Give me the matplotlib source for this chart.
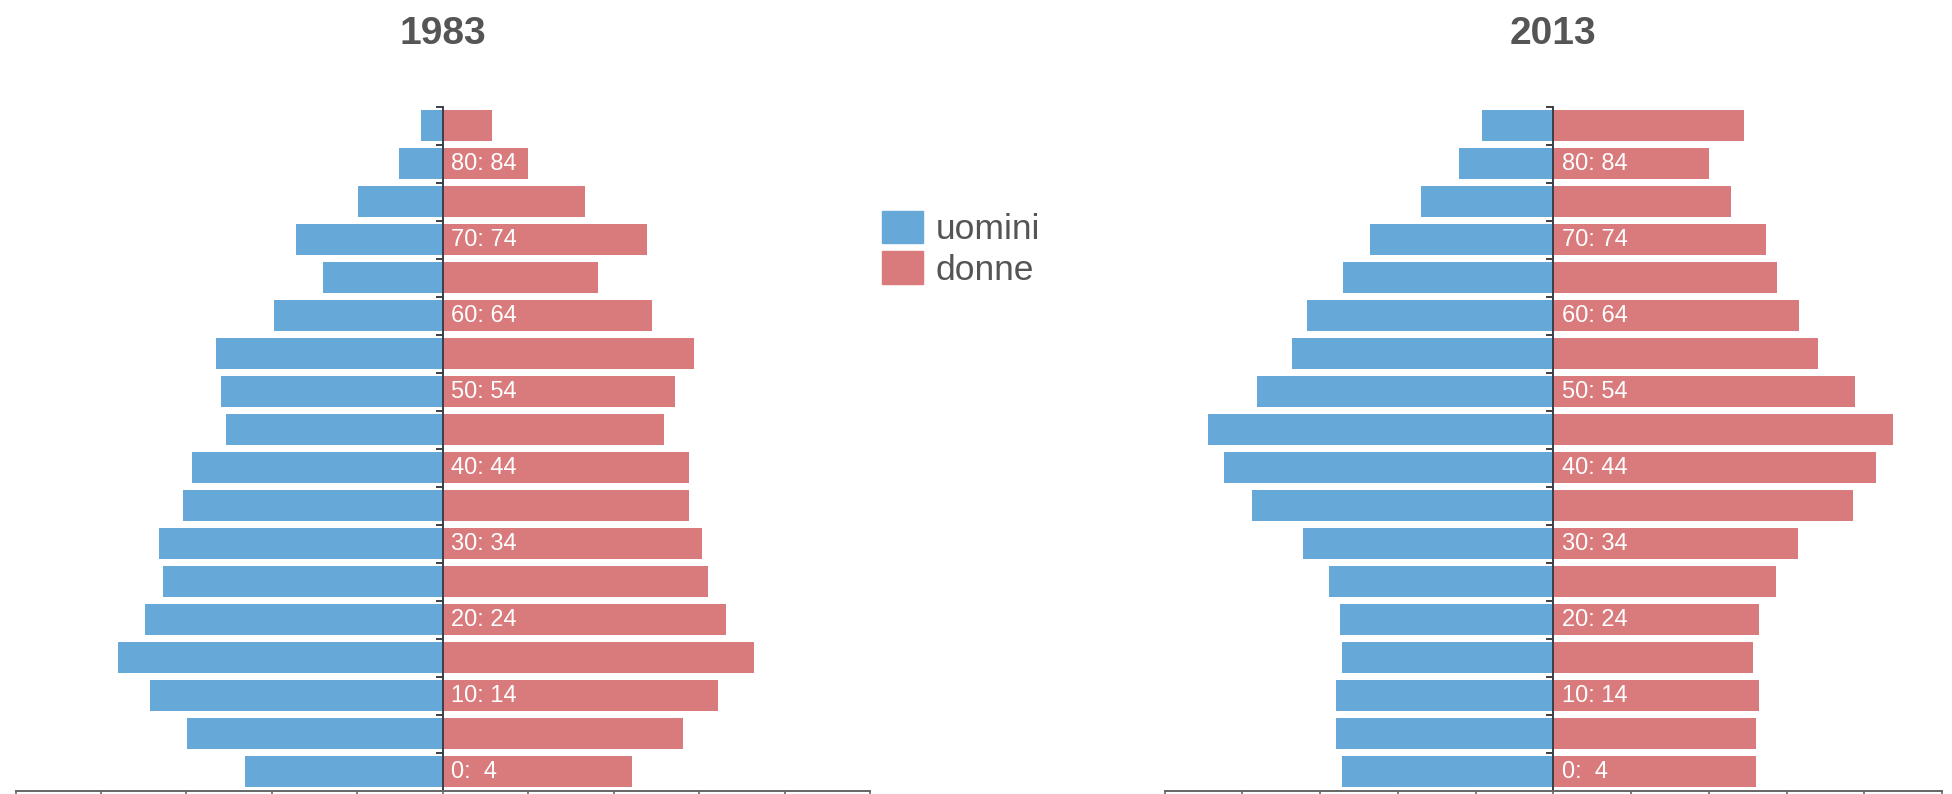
import matplotlib.pyplot as plt
from matplotlib.patches import Patch

plt.rcParams['font.family'] = ['Liberation Sans', 'DejaVu Sans']

# age groups, bottom (0-4) to top (85+)
ages = ['0: 4', '5: 9', '10: 14', '15: 19', '20: 24', '25: 29', '30: 34', '35: 39',
        '40: 44', '45: 49', '50: 54', '55: 59', '60: 64', '65: 69', '70: 74',
        '75: 79', '80: 84', '85+']
shown = ['0:  4', '', '10: 14', '', '20: 24', '', '30: 34', '', '40: 44', '',
         '50: 54', '', '60: 64', '', '70: 74', '', '80: 84', '']

men_1983 = [2.31, 2.99, 3.43, 3.80, 3.48, 3.27, 3.32, 3.04, 2.93, 2.54,
            2.60, 2.65, 1.97, 1.40, 1.72, 0.99, 0.51, 0.25]
women_1983 = [2.21, 2.81, 3.22, 3.64, 3.32, 3.10, 3.03, 2.88, 2.88, 2.59,
              2.72, 2.94, 2.45, 1.82, 2.39, 1.66, 1.00, 0.58]
men_2013 = [2.72, 2.79, 2.79, 2.72, 2.74, 2.88, 3.22, 3.87, 4.23, 4.44,
            3.81, 3.36, 3.17, 2.70, 2.36, 1.70, 1.21, 0.92]
women_2013 = [2.61, 2.61, 2.64, 2.57, 2.64, 2.86, 3.15, 3.86, 4.15, 4.37,
              3.88, 3.41, 3.16, 2.88, 2.74, 2.28, 2.00, 2.45]

blue = '#66a9d8'
red = '#d97a7c'
grey = '#555555'

fig = plt.figure(figsize=(19.52, 7.94), dpi=100)
ax1 = fig.add_axes([0.0080, 0.0044, 0.4377, 0.861])
ax2 = fig.add_axes([0.5966, 0.0044, 0.3983, 0.861])

y = list(range(len(ages)))
for ax, men, women, title in [(ax1, men_1983, women_1983, '1983'),
                              (ax2, men_2013, women_2013, '2013')]:
    ax.barh(y, [-v for v in men], height=0.81, color=blue)
    ax.barh(y, women, height=0.81, color=red)
    for i, lab in enumerate(shown):
        if lab:
            ax.annotate(lab, (0, i), xytext=(6, 0), textcoords='offset points',
                        color='white', fontsize=17, va='center', ha='left')
    ax.set_xlim(-5, 5)
    ax.set_ylim(-0.5, 17.5)
    ax.set_xticks(range(-5, 6))
    ax.set_xticklabels([])
    ax.set_yticks([k + 0.5 for k in range(18)])
    ax.set_yticklabels([])
    for s in ['top', 'right']:
        ax.spines[s].set_visible(False)
    ax.spines['left'].set_position(('data', 0))
    ax.spines['left'].set_color('#3a3f48')
    ax.spines['left'].set_linewidth(1.4)
    ax.spines['bottom'].set_color('#666666')
    ax.spines['bottom'].set_linewidth(1.4)
    ax.tick_params(axis='x', direction='out', length=7, width=1.2, color='#666666')
    ax.tick_params(axis='y', direction='out', length=5, width=1.4, color='#3a3f48')
    ax.set_title(title, fontsize=28, fontweight='bold', color=grey, pad=45)

handles = [Patch(color=blue, label='uomini'), Patch(color=red, label='donne')]
fig.legend(handles=handles, loc='upper left', bbox_to_anchor=(0.4356, 0.775),
           frameon=False, fontsize=25.5, labelcolor=grey, handlelength=1.15,
           handleheight=1.05, handletextpad=0.35, labelspacing=0.15)

plt.savefig('out.png', dpi=100)
